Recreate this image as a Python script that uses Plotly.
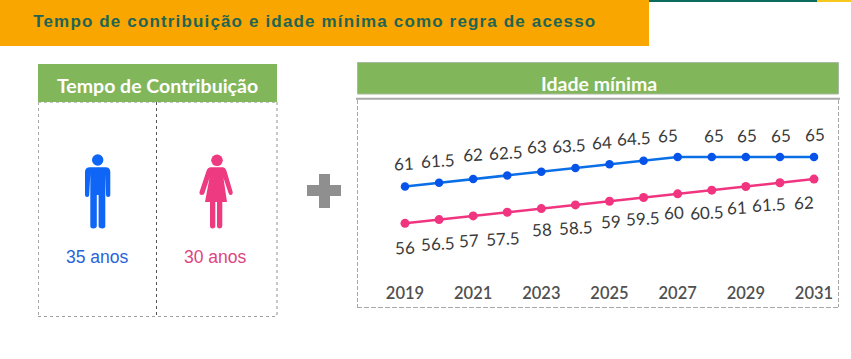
import plotly.graph_objects as go

years = [2019, 2020, 2021, 2022, 2023, 2024, 2025, 2026, 2027, 2028, 2029, 2030, 2031]
idade_homens = [61, 61.5, 62, 62.5, 63, 63.5, 64, 64.5, 65, 65, 65, 65, 65]
idade_mulheres = [56, 56.5, 57, 57.5, 58, 58.5, 59, 59.5, 60, 60.5, 61, 61.5, 62]
tick_years = [2019, 2021, 2023, 2025, 2027, 2029, 2031]

titulo = "Tempo de contribuição e idade mínima como regra de acesso"
painel_esq = "Tempo de Contribuição"
painel_dir = "Idade mínima"
tempo_homens = "35 anos"
tempo_mulheres = "30 anos"

# label nudges (style only), in pixels
dx_h = [-1, -1, 0, -1, -4, -6, -8, -10, -10, 2, 1, 1, 1]
dy_h = [23, 22, 25, 23, 25, 23, 22, 22, 21, 21, 21, 21, 22]
dx_m = [0, -1, -4, -4, 1, 1, 1, -1, -4, -5, -9, -11, -10]
dy_m = [-24, -24, -25, -26, -21, -23, -20, -21, -19, -22, -21, -22, -23]

W, H = 851, 359
BLUE, BLUE_M = "#0A6FE6", "#0653EA"
PINK = "#F0347F"
GREEN = "#82B65B"
LABEL = "#3A3A3A"
AXIS_BOTTOM = 279


def px(x):
    return x / W


def py(y):
    return 1 - y / H


def path(cmds):
    out = []
    for c in cmds:
        pts = c[1:]
        s = " ".join(f"{px(pts[i]):.5f},{py(pts[i + 1]):.5f}" for i in range(0, len(pts), 2))
        out.append(c[0] + s)
    return " ".join(out) + " Z"


def rect(x0, y0, x1, y1, color, line=None):
    return dict(type="rect", xref="paper", yref="paper", x0=px(x0), x1=px(x1), y0=py(y1), y1=py(y0),
                fillcolor=color, line=line or dict(width=0), layer="below")


def seg(x0, y0, x1, y1, color, width=1, dash="solid"):
    return dict(type="line", xref="paper", yref="paper", x0=px(x0), x1=px(x1), y0=py(y0), y1=py(y1),
                line=dict(color=color, width=width, dash=dash), layer="below")


def circle(cx, cy, r, color):
    return dict(type="circle", xref="paper", yref="paper", x0=px(cx - r), x1=px(cx + r),
                y0=py(cy + r), y1=py(cy - r), fillcolor=color, line=dict(width=0), layer="below")


def poly(cmds, color):
    return dict(type="path", xref="paper", yref="paper", path=path(cmds), fillcolor=color,
                line=dict(width=0), layer="below")


MAN = "#0F65F5"
WOMAN = "#EE3A80"
man_body = [("M", 85, 172), ("Q", 85, 167.3, 90, 167.3), ("L", 105.5, 167.3), ("Q", 110.3, 167.3, 110.3, 172),
            ("L", 110.3, 195), ("Q", 110.3, 197, 108.2, 197), ("Q", 106, 197, 106, 195), ("L", 105.3, 174),
            ("L", 105.3, 226), ("Q", 105.3, 228.4, 102.5, 228.4), ("Q", 98.6, 228.4, 98.6, 226),
            ("L", 98.6, 195), ("L", 96.8, 195), ("L", 96.8, 226), ("Q", 96.8, 228.4, 93, 228.4),
            ("Q", 90.3, 228.4, 90.3, 226), ("L", 90.3, 174), ("L", 89.2, 195), ("Q", 89.2, 197, 87, 197),
            ("Q", 85, 197, 85, 195)]
woman_body = [("M", 211, 167.3), ("L", 222.5, 167.3), ("Q", 225.5, 167.5, 226.5, 171), ("L", 232.7, 192),
              ("Q", 233, 195, 230.5, 195), ("Q", 229, 195, 228.5, 193), ("L", 223.5, 178), ("L", 227, 202),
              ("L", 222.3, 202), ("L", 222.3, 226), ("Q", 222.3, 228.4, 219.8, 228.4), ("Q", 217, 228.4, 217, 226),
              ("L", 217, 202), ("L", 215.3, 202), ("L", 215.3, 226), ("Q", 215.3, 228.4, 212.6, 228.4),
              ("Q", 210, 228.4, 210, 226), ("L", 210, 202), ("L", 205, 202), ("L", 209.5, 178), ("L", 204.5, 193),
              ("Q", 204, 195, 202, 195), ("Q", 199, 195, 199.5, 192), ("L", 206.5, 171), ("Q", 207.5, 167.5, 211, 167.3)]

shapes = [
    rect(0, 0, 649, 46, "#F9A600"),
    rect(649, 0, 817, 2, "#0B6B5C"),
    rect(817, 0, 851, 2, "#F7C81E"),
    # left panel
    rect(38, 64, 277, 102, GREEN),
    seg(38.5, 102, 38.5, 316.5, "#A8A8A8", 1, "dot"),
    seg(277, 102, 277, 316.5, "#C8C8C8", 2, "dot"),
    seg(38, 316.5, 277, 316.5, "#A0A0A0", 1, "dot"),
    seg(38, 102.5, 277, 102.5, "#C0C0C0", 1, "dot"),
    seg(156.5, 102, 156.5, 316.5, "#555555", 1, "dot"),
    circle(97.7, 160, 5.7, MAN),
    poly(man_body, MAN),
    circle(217, 160.3, 5.8, WOMAN),
    poly(woman_body, WOMAN),
    # plus sign
    rect(319, 174, 330, 208, "#8F8F8F"),
    rect(307, 185, 341, 196, "#8F8F8F"),
    # right panel
    rect(357.5, 62.5, 838.5, 94, GREEN, dict(color="#A9B8A0", width=1)),
    seg(356, 98.7, 840, 98.7, "#A9A9A9", 2),
    seg(357.5, 100, 357.5, 307, "#A8A8A8", 1, "4px,2px"),
    seg(838.5, 100, 838.5, 307, "#A8A8A8", 1, "4px,2px"),
    seg(357, 307.5, 839, 307.5, "#A8A8A8", 1, "5px,2px"),
]

fig = go.Figure()
fig.add_trace(go.Scatter(x=years, y=idade_homens, mode="lines+markers", name="Homens", showlegend=False,
                         line=dict(color=BLUE, width=2.5), marker=dict(color=BLUE_M, size=8.5), cliponaxis=False))
fig.add_trace(go.Scatter(x=years, y=idade_mulheres, mode="lines+markers", name="Mulheres", showlegend=False,
                         line=dict(color=PINK, width=2.5), marker=dict(color=PINK, size=9), cliponaxis=False))


def note(x, y, text, font, color, size):
    return dict(xref="paper", yref="paper", x=px(x), y=py(y), text=text, showarrow=False,
                xanchor="center", yanchor="middle", font=dict(family=font, color=color, size=size))


annotations = [
    note(315, 21, f"<b>{titulo}</b>", "Liberation Sans", "#1F6454", 17),
    note(157, 85.5, f"<b>{painel_esq}</b>", "Lato", "white", 19.5),
    note(599, 83, f"<b>{painel_dir}</b>", "Lato", "#FBFDF8", 19.5),
    note(97, 256.7, tempo_homens, "Liberation Sans", "#2A62D8", 17.5),
    note(215.7, 256.7, tempo_mulheres, "Liberation Sans", "#DD4482", 17.5),
]
for xs, ys, dxs, dys in ((years, idade_homens, dx_h, dy_h), (years, idade_mulheres, dx_m, dy_m)):
    for x, y, dx, dy in zip(xs, ys, dxs, dys):
        annotations.append(dict(xref="x", yref="y", x=x, y=y, text=f"{y:g}", showarrow=False,
                                xshift=dx, yshift=dy, textangle=-3,
                                font=dict(family="Lato", color=LABEL, size=17)))

fig.update_layout(
    width=W, height=H, margin=dict(l=0, r=0, t=0, b=0, autoexpand=False),
    paper_bgcolor="white", plot_bgcolor="rgba(0,0,0,0)",
    shapes=shapes, annotations=annotations, showlegend=False,
    xaxis=dict(domain=[405 / W, 814 / W], range=[2019, 2031], tickvals=tick_years,
               ticktext=[str(t) for t in tick_years], showgrid=False, zeroline=False, showline=False,
               ticks="", tickfont=dict(family="Lato", size=16.5, color="#505050", weight=600), ticklabelstandoff=2,
               ticklabeloverflow="allow"),
    yaxis=dict(domain=[1 - AXIS_BOTTOM / H, 1 - 100 / H],
               range=[56 - (AXIS_BOTTOM - 223.3) / 7.37, 65 + (157 - 100) / 7.37], visible=False),
)

post = """
document.documentElement.style.margin='0';
document.body.style.margin='0';
document.body.style.overflow='hidden';
document.querySelectorAll('.annotation-text').forEach(function(t){
  if(t.textContent.indexOf('regra de acesso')>=0){t.style.letterSpacing='1.15px';}
});
"""
fig.write_html("out.html", post_script=post, config=dict(displayModeBar=False))
